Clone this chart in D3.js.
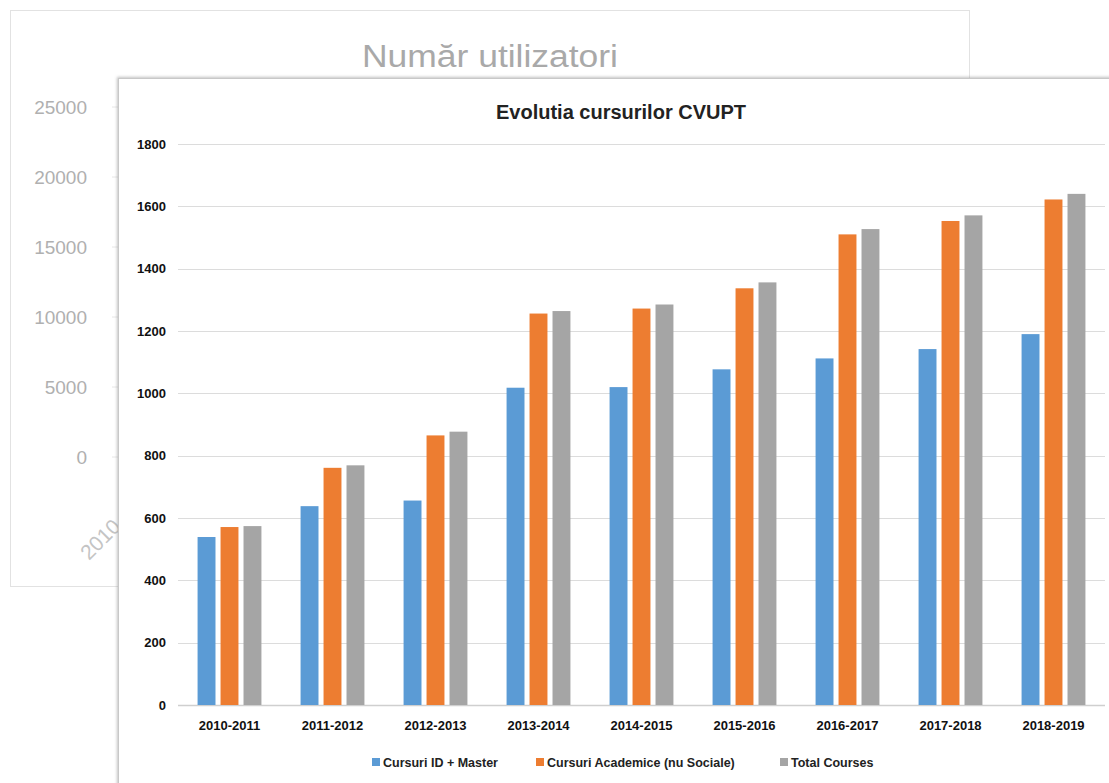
<!DOCTYPE html>
<html>
<head>
<meta charset="utf-8">
<script src="https://d3js.org/d3.v7.min.js"></script>
<style>
  body { margin: 0; background: white; }
  * { font-family: "Liberation Sans", Arial, sans-serif; }
</style>
</head>
<body>
<script>
// data
const years = ["2010-2011","2011-2012","2012-2013","2013-2014","2014-2015","2015-2016","2016-2017","2017-2018","2018-2019"];
const seriesNames = ["Cursuri ID + Master", "Cursuri Academice (nu Sociale)", "Total Courses"];
const idMaster   = [539, 638, 656, 1018, 1020, 1077, 1112, 1142, 1190];
const academice  = [571, 761, 865, 1256, 1272, 1337, 1510, 1553, 1622];
const totalCurs  = [574, 769, 877, 1264, 1285, 1356, 1527, 1571, 1640];
const yTicks = [0, 200, 400, 600, 800, 1000, 1200, 1400, 1600, 1800];
// background (faded) chart
const backTicks = [0, 5000, 10000, 15000, 20000, 25000];

const colors = ["#5B9BD5", "#ED7D31", "#A5A5A5"];
const W = 1109, H = 783;

const svg = d3.select("body").append("svg").attr("width", W).attr("height", H);

// ---- background chart "Număr utilizatori" ----
const back = svg.append("g");
back.append("rect").attr("x", 10.5).attr("y", 10.5).attr("width", 959).attr("height", 576)
  .attr("fill", "white").attr("stroke", "#e2e2e2");
back.append("text").attr("x", 490).attr("y", 67).attr("text-anchor", "middle")
  .attr("font-size", 31).attr("fill", "#a9a9a9")
  .attr("textLength", 256).attr("lengthAdjust", "spacingAndGlyphs")
  .text("Număr utilizatori");

const yBack = d3.scaleLinear().domain([0, 25000]).range([457, 107]);
back.selectAll("line.bg").data(backTicks).enter().append("line")
  .attr("x1", 112).attr("x2", 960)
  .attr("y1", d => yBack(d)).attr("y2", d => yBack(d))
  .attr("stroke", "#e6e6e6");
back.selectAll("text.bt").data(backTicks).enter().append("text")
  .attr("x", 87).attr("y", d => yBack(d) + 7).attr("text-anchor", "end")
  .attr("font-size", 19).attr("fill", "#b0b0b0").text(d => d);
back.append("text").attr("transform", "translate(89,561) rotate(-45)")
  .attr("font-size", 21).attr("fill", "#c4c4c4").text(years[0]);

// ---- foreground chart ----
const defs = svg.append("defs");
const f = defs.append("filter").attr("id", "sh").attr("x", "-5%").attr("y", "-5%").attr("width", "110%").attr("height", "110%");
f.append("feDropShadow").attr("dx", -1).attr("dy", -1).attr("stdDeviation", 1.5).attr("flood-color", "#999").attr("flood-opacity", 0.6);

svg.append("rect").attr("x", 118.5).attr("y", 78.5).attr("width", 1010).attr("height", 720)
  .attr("fill", "white").attr("stroke", "#c8c8c8").attr("filter", "url(#sh)");

svg.append("text").attr("x", 621).attr("y", 119).attr("text-anchor", "middle")
  .attr("font-size", 20).attr("font-weight", "bold").attr("fill", "#222")
  .text("Evolutia cursurilor CVUPT");

const x0 = d3.scaleBand().domain(years).range([178, 1105]).paddingInner(0.38).paddingOuter(0.19);
const x1 = d3.scaleBand().domain(seriesNames).range([0, x0.bandwidth()]).paddingInner(0.22);
const y = d3.scaleLinear().domain([0, 1800]).range([705, 144]);

// gridlines
svg.append("g").selectAll("line").data(yTicks).enter().append("line")
  .attr("x1", 178).attr("x2", 1105)
  .attr("y1", d => Math.round(y(d)) + 0.5).attr("y2", d => Math.round(y(d)) + 0.5)
  .attr("stroke", d => d === 0 ? "#cfcfcf" : "#dcdcdc").attr("stroke-width", d => d === 0 ? 1.5 : 1);

// y axis labels
const yAxis = svg.append("g").attr("transform", "translate(166,0)")
  .call(d3.axisLeft(y).tickValues(yTicks).tickFormat(d3.format("d")).tickSize(0).tickPadding(0));
yAxis.select(".domain").remove();
yAxis.selectAll("text").attr("font-size", 13).attr("font-weight", "bold").attr("fill", "#111")
  .attr("font-family", "Liberation Sans, Arial, sans-serif");

// x axis labels
const xAxis = svg.append("g").attr("transform", "translate(0,705)")
  .call(d3.axisBottom(x0).tickSize(0).tickPadding(16));
xAxis.select(".domain").remove();
xAxis.selectAll("text").attr("font-size", 13).attr("font-weight", "bold").attr("fill", "#111")
  .attr("font-family", "Liberation Sans, Arial, sans-serif");

// bars
const series = [idMaster, academice, totalCurs];
const rows = years.map((yr, i) => ({ yr, vals: series.map((s, k) => ({ name: seriesNames[k], v: s[i], k })) }));

svg.append("g").selectAll("g").data(rows).enter().append("g")
  .attr("transform", d => "translate(" + x0(d.yr) + ",0)")
  .selectAll("rect").data(d => d.vals).enter().append("rect")
  .attr("x", d => x1(d.name))
  .attr("y", d => y(d.v))
  .attr("width", x1.bandwidth())
  .attr("height", d => y(0) - y(d.v))
  .attr("fill", d => colors[d.k]);

// legend
const legendX = [372, 536, 780];
const lg = svg.append("g").selectAll("g").data(seriesNames).enter().append("g")
  .attr("transform", (d, i) => "translate(" + legendX[i] + ",757)");
lg.append("rect").attr("width", 8).attr("height", 8).attr("y", 1).attr("fill", (d, i) => colors[i]);
lg.append("text").attr("x", 11).attr("y", 9.5).attr("font-size", 12.5).attr("font-weight", "bold")
  .attr("fill", "#222").text(d => d);
</script>
</body>
</html>
